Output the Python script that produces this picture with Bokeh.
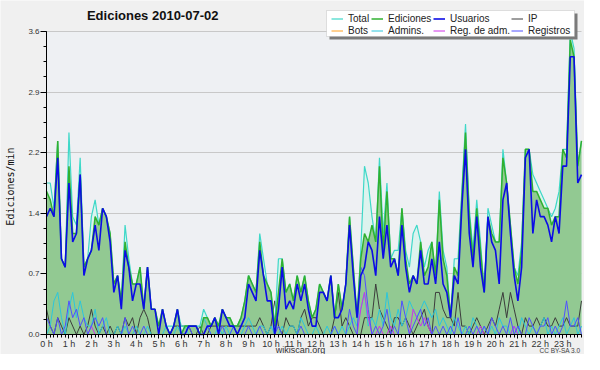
import math
from bokeh.plotting import figure
from bokeh.models import Range1d, FixedTicker, Legend, LegendItem, Label, BoxAnnotation
from bokeh.embed import file_html
from bokeh.resources import INLINE

# ---------------- data (edits per minute, 10-minute bins, 0:00 .. 23:50) ----------------
hour_ticks = list(range(24))
hour_labels = [f"{h} h" for h in hour_ticks]
y_tick_values = [0.0, 0.72, 1.44, 2.16, 2.88, 3.6]
y_tick_labels = ["0.0", "0.7", "1.4", "2.2", "2.9", "3.6"]

total = [
    1.8, 1.8, 1.5, 2.3, 0.9, 0.8, 2.4, 1.4, 1.3, 2.1, 0.8, 0.9,
    1.4, 1.6, 1.3, 1.5, 1.4, 1.2, 0.6, 0.7, 0.4, 1.3, 0.9, 0.6,
    0.6, 0.8, 0.3, 0.8, 0.3, 0.3, 0.1, 0.3, 0.1, 0.1, 0.1, 0.3,
    0.1, 0.1, 0.1, 0.1, 0.1, 0.1, 0.3, 0.2, 0.1, 0.2, 0.1, 0.3,
    0.2, 0.2, 0.1, 0.1, 0.2, 0.4, 0.7, 0.6, 0.5, 1.2, 0.9, 0.6,
    0.5, 0.1, 0.9, 0.9, 0.5, 0.6, 0.4, 0.7, 0.5, 0.7, 0.4, 0.2,
    0.3, 0.6, 0.5, 0.4, 0.7, 0.2, 0.6, 0.3, 0.6, 1.4, 0.8, 0.2,
    1.0, 2.0, 1.8, 1.4, 1.1, 2.1, 1.2, 1.8, 0.9, 1.0, 1.0, 1.5,
    1.0, 0.8, 1.2, 1.3, 1.1, 0.8, 1.0, 1.1, 0.7, 1.7, 1.0, 0.8,
    0.2, 0.9, 0.9, 1.7, 2.5, 1.5, 1.0, 1.6, 1.1, 0.5, 1.5, 1.3,
    1.1, 1.1, 2.2, 1.8, 1.3, 0.8, 0.7, 1.1, 2.2, 2.2, 1.9, 1.8,
    1.7, 1.6, 1.5, 1.4, 1.5, 1.7, 2.2, 2.2, 3.6, 3.4, 2.0, 2.3,
]
ediciones = [
    1.7, 1.6, 1.4, 2.3, 0.9, 0.8, 2.0, 1.2, 1.2, 1.9, 0.8, 0.9,
    1.0, 1.4, 1.3, 1.5, 1.4, 1.2, 0.6, 0.7, 0.4, 1.1, 0.8, 0.6,
    0.6, 0.8, 0.3, 0.8, 0.3, 0.3, 0.1, 0.3, 0.1, 0.0, 0.1, 0.3,
    0.0, 0.1, 0.1, 0.1, 0.1, 0.0, 0.2, 0.2, 0.1, 0.2, 0.1, 0.3,
    0.2, 0.2, 0.1, 0.1, 0.2, 0.4, 0.7, 0.6, 0.5, 1.1, 0.7, 0.6,
    0.5, 0.1, 0.5, 0.9, 0.5, 0.6, 0.4, 0.7, 0.5, 0.7, 0.4, 0.2,
    0.3, 0.6, 0.5, 0.4, 0.7, 0.2, 0.6, 0.3, 0.6, 1.4, 0.8, 0.2,
    0.9, 1.2, 1.1, 1.3, 1.1, 2.0, 1.0, 1.7, 0.9, 0.9, 0.7, 1.5,
    0.9, 0.6, 0.7, 0.6, 1.1, 0.7, 0.8, 1.1, 0.7, 1.6, 0.9, 0.7,
    0.2, 0.8, 0.7, 1.6, 2.4, 1.4, 0.9, 1.5, 1.0, 0.5, 1.4, 1.2,
    1.1, 1.1, 2.1, 1.8, 1.3, 0.8, 0.6, 1.0, 2.2, 2.2, 1.7, 1.7,
    1.6, 1.5, 1.5, 1.3, 1.4, 1.4, 2.2, 2.1, 3.5, 3.3, 2.0, 2.3,
]
usuarios = [
    1.4, 1.5, 1.4, 2.1, 0.9, 0.8, 1.8, 1.1, 1.2, 1.9, 0.7, 0.9,
    1.0, 1.3, 1.0, 1.5, 1.4, 1.1, 0.5, 0.7, 0.3, 1.0, 0.8, 0.4,
    0.6, 0.6, 0.3, 0.8, 0.3, 0.3, 0.0, 0.3, 0.1, 0.0, 0.1, 0.3,
    0.0, 0.0, 0.1, 0.1, 0.1, 0.0, 0.0, 0.1, 0.1, 0.2, 0.0, 0.3,
    0.2, 0.1, 0.1, 0.0, 0.1, 0.2, 0.6, 0.5, 0.4, 1.0, 0.7, 0.4,
    0.4, 0.0, 0.3, 0.8, 0.3, 0.4, 0.3, 0.6, 0.4, 0.6, 0.3, 0.1,
    0.1, 0.5, 0.5, 0.4, 0.7, 0.2, 0.2, 0.3, 0.6, 1.3, 0.7, 0.2,
    0.7, 0.8, 1.1, 1.0, 0.7, 1.4, 0.9, 1.3, 0.8, 0.9, 0.7, 1.3,
    0.8, 0.5, 0.7, 0.6, 1.0, 0.6, 0.6, 0.9, 0.6, 1.1, 0.6, 0.5,
    0.2, 0.7, 0.6, 1.5, 2.2, 1.2, 0.8, 1.4, 0.8, 0.5, 1.4, 1.1,
    1.0, 0.6, 1.6, 1.8, 1.2, 0.7, 0.4, 0.8, 2.1, 2.2, 1.2, 1.6,
    1.4, 1.4, 1.3, 1.1, 1.4, 1.2, 2.0, 2.0, 3.3, 3.3, 1.8, 1.9,
]
ip = [
    0.3, 0.1, 0.0, 0.2, 0.1, 0.0, 0.2, 0.1, 0.0, 0.1, 0.0, 0.1,
    0.3, 0.1, 0.0, 0.1, 0.0, 0.1, 0.0, 0.1, 0.0, 0.2, 0.1, 0.2,
    0.0, 0.2, 0.3, 0.2, 0.0, 0.0, 0.0, 0.0, 0.0, 0.0, 0.1, 0.1,
    0.1, 0.1, 0.1, 0.0, 0.0, 0.1, 0.0, 0.0, 0.1, 0.1, 0.1, 0.1,
    0.1, 0.1, 0.1, 0.1, 0.1, 0.1, 0.1, 0.1, 0.1, 0.2, 0.1, 0.0,
    0.1, 0.4, 0.1, 0.0, 0.2, 0.1, 0.1, 0.0, 0.2, 0.3, 0.1, 0.2,
    0.2, 0.1, 0.0, 0.0, 0.0, 0.2, 0.5, 0.1, 0.2, 0.1, 0.0, 0.0,
    0.0, 0.2, 0.2, 0.2, 0.6, 0.3, 0.2, 0.1, 0.0, 0.2, 0.2, 0.1,
    0.2, 0.1, 0.0, 0.1, 0.2, 0.3, 0.1, 0.0, 0.5, 0.5, 0.3, 0.2,
    0.2, 0.1, 0.5, 0.1, 0.1, 0.0, 0.1, 0.2, 0.1, 0.0, 0.1, 0.2,
    0.1, 0.3, 0.5, 0.2, 0.5, 0.3, 0.1, 0.0, 0.2, 0.1, 0.1, 0.2,
    0.1, 0.2, 0.1, 0.1, 0.2, 0.1, 0.1, 0.2, 0.1, 0.1, 0.1, 0.4,
]
bots = [
    0.0, 0.0, 0.0, 0.0, 0.0, 0.0, 0.0, 0.0, 0.0, 0.0, 0.0, 0.0,
    0.0, 0.0, 0.0, 0.0, 0.0, 0.0, 0.0, 0.0, 0.0, 0.0, 0.0, 0.0,
    0.0, 0.0, 0.0, 0.0, 0.0, 0.0, 0.0, 0.0, 0.0, 0.0, 0.0, 0.0,
    0.0, 0.0, 0.0, 0.0, 0.0, 0.0, 0.0, 0.0, 0.0, 0.0, 0.0, 0.0,
    0.0, 0.0, 0.0, 0.0, 0.0, 0.0, 0.0, 0.0, 0.0, 0.0, 0.0, 0.0,
    0.0, 0.0, 0.0, 0.0, 0.0, 0.0, 0.0, 0.0, 0.0, 0.0, 0.0, 0.0,
    0.0, 0.0, 0.0, 0.0, 0.0, 0.0, 0.0, 0.0, 0.0, 0.0, 0.0, 0.0,
    0.0, 0.0, 0.0, 0.0, 0.0, 0.0, 0.0, 0.0, 0.0, 0.0, 0.0, 0.0,
    0.0, 0.0, 0.0, 0.0, 0.0, 0.0, 0.0, 0.0, 0.0, 0.0, 0.0, 0.0,
    0.0, 0.0, 0.0, 0.0, 0.0, 0.0, 0.0, 0.0, 0.0, 0.0, 0.0, 0.0,
    0.0, 0.0, 0.0, 0.0, 0.0, 0.0, 0.0, 0.0, 0.0, 0.0, 0.0, 0.0,
    0.0, 0.0, 0.0, 0.0, 0.0, 0.0, 0.0, 0.0, 0.0, 0.0, 0.0, 0.0,
]
admins = [
    0.0, 0.1, 0.4, 0.5, 0.2, 0.0, 0.3, 0.5, 0.2, 0.4, 0.2, 0.1,
    0.1, 0.3, 0.0, 0.1, 0.2, 0.0, 0.0, 0.1, 0.0, 0.1, 0.0, 0.0,
    0.1, 0.0, 0.0, 0.1, 0.0, 0.0, 0.0, 0.0, 0.1, 0.0, 0.0, 0.1,
    0.0, 0.1, 0.0, 0.0, 0.0, 0.0, 0.2, 0.1, 0.0, 0.0, 0.1, 0.0,
    0.1, 0.0, 0.1, 0.0, 0.0, 0.1, 0.2, 0.1, 0.0, 0.1, 0.1, 0.0,
    0.1, 0.0, 0.0, 0.1, 0.0, 0.1, 0.1, 0.0, 0.2, 0.1, 0.0, 0.0,
    0.1, 0.0, 0.0, 0.1, 0.0, 0.1, 0.0, 0.1, 0.0, 0.1, 0.2, 0.1,
    0.3, 0.5, 0.1, 0.2, 0.1, 0.3, 0.1, 0.5, 0.2, 0.1, 0.3, 0.1,
    0.2, 0.4, 0.3, 0.2, 0.3, 0.4, 0.3, 0.2, 0.3, 0.1, 0.2, 0.1,
    0.0, 0.2, 0.1, 0.0, 0.1, 0.0, 0.2, 0.1, 0.0, 0.1, 0.0, 0.1,
    0.0, 0.2, 0.1, 0.1, 0.0, 0.1, 0.0, 0.2, 0.1, 0.0, 0.1, 0.0,
    0.1, 0.2, 0.0, 0.1, 0.0, 0.1, 0.2, 0.0, 0.1, 0.2, 0.0, 0.1,
]
reg_adm = [
    0.0, 0.0, 0.0, 0.0, 0.0, 0.0, 0.0, 0.0, 0.0, 0.0, 0.0, 0.0,
    0.1, 0.0, 0.0, 0.0, 0.0, 0.0, 0.0, 0.0, 0.0, 0.0, 0.0, 0.0,
    0.0, 0.0, 0.0, 0.0, 0.0, 0.0, 0.0, 0.0, 0.0, 0.0, 0.0, 0.0,
    0.0, 0.0, 0.0, 0.0, 0.0, 0.0, 0.0, 0.0, 0.0, 0.0, 0.0, 0.0,
    0.0, 0.0, 0.0, 0.0, 0.0, 0.0, 0.0, 0.0, 0.0, 0.0, 0.0, 0.0,
    0.0, 0.0, 0.0, 0.0, 0.0, 0.0, 0.0, 0.0, 0.0, 0.0, 0.0, 0.0,
    0.0, 0.0, 0.0, 0.0, 0.0, 0.0, 0.0, 0.0, 0.0, 0.0, 0.0, 0.0,
    0.3, 0.5, 0.2, 0.0, 0.0, 0.1, 0.0, 0.0, 0.1, 0.0, 0.0, 0.0,
    0.0, 0.0, 0.3, 0.2, 0.1, 0.2, 0.1, 0.0, 0.0, 0.0, 0.0, 0.0,
    0.0, 0.0, 0.0, 0.0, 0.0, 0.0, 0.0, 0.0, 0.1, 0.0, 0.0, 0.0,
    0.0, 0.0, 0.0, 0.0, 0.0, 0.1, 0.0, 0.0, 0.0, 0.0, 0.0, 0.0,
    0.0, 0.0, 0.0, 0.0, 0.0, 0.0, 0.0, 0.0, 0.0, 0.0, 0.0, 0.0,
]
registros = [
    0.2, 0.1, 0.0, 0.2, 0.0, 0.1, 0.4, 0.2, 0.3, 0.1, 0.2, 0.0,
    0.1, 0.2, 0.1, 0.2, 0.0, 0.0, 0.0, 0.0, 0.0, 0.2, 0.0, 0.1,
    0.0, 0.0, 0.1, 0.0, 0.0, 0.0, 0.0, 0.0, 0.0, 0.0, 0.0, 0.0,
    0.0, 0.0, 0.1, 0.0, 0.0, 0.0, 0.0, 0.1, 0.0, 0.0, 0.0, 0.1,
    0.0, 0.0, 0.1, 0.0, 0.0, 0.0, 0.1, 0.0, 0.0, 0.1, 0.0, 0.0,
    0.0, 0.0, 0.1, 0.0, 0.0, 0.0, 0.0, 0.0, 0.1, 0.0, 0.0, 0.0,
    0.0, 0.0, 0.0, 0.0, 0.0, 0.1, 0.0, 0.0, 0.0, 0.3, 0.1, 0.0,
    0.8, 0.7, 0.3, 0.0, 0.1, 0.0, 0.1, 0.3, 0.0, 0.1, 0.0, 0.4,
    0.2, 0.0, 0.1, 0.2, 0.3, 0.1, 0.2, 0.0, 0.1, 0.0, 0.1, 0.0,
    0.1, 0.0, 0.2, 0.0, 0.0, 0.1, 0.0, 0.1, 0.0, 0.1, 0.0, 0.2,
    0.1, 0.0, 0.1, 0.0, 0.2, 0.0, 0.1, 0.0, 0.0, 0.2, 0.1, 0.0,
    0.1, 0.1, 0.2, 0.0, 0.1, 0.0, 0.1, 0.4, 0.1, 0.1, 0.2, 0.0,
]

n = len(total)
x = [i / 6 for i in range(n)]          # hours
x_minor = [i / 6 for i in range(n + 1)]
X_LAST = x[-1]
Y_MAX = y_tick_values[-1]

# ---------------- layout geometry (canvas pixels; the frame fills the canvas) ----------------
W, H = 584, 354
PX_X0, PX_XLAST = 46, 581     # canvas columns of 0:00 and 23:50
PX_TOP, PX_ZERO = 31, 334     # canvas rows of the 3.6 line and the 0 line
xpp = X_LAST / (PX_XLAST - PX_X0)
ypp = Y_MAX / (PX_ZERO - PX_TOP)
x_start, x_end = -PX_X0 * xpp, X_LAST + (W - PX_XLAST) * xpp
y_start, y_end = -(H - PX_ZERO) * ypp, Y_MAX + PX_TOP * ypp


def dx(px):   # canvas column -> data x
    return x_start + px * xpp


def dy(py):   # canvas row -> data y
    return y_end - py * ypp


FONT = "Liberation Sans"

p = figure(width=W, height=H, title=None,
           x_range=Range1d(x_start, x_end), y_range=Range1d(y_start, y_end),
           output_backend="svg", toolbar_location=None,
           min_border_left=0, min_border_right=0,
           min_border_top=0, min_border_bottom=0,
           background_fill_color="#f0f0f0", border_fill_color="#f0f0f0",
           outline_line_color=None)

# plot-area background (between the axes only)
p.add_layout(BoxAnnotation(left=0, right=X_LAST, bottom=0, top=Y_MAX,
                           fill_color="#eef0f3", fill_alpha=1,
                           line_color=None, level="image"))

# areas and lines
r_bots = p.line(x, bots, line_color="#ffa020", line_width=1)
p.varea(x=x, y1=0, y2=total, fill_color="#dcf3ee")
p.varea(x=x, y1=0, y2=ediciones, fill_color="#92c992")
r_ip = p.line(x, ip, line_color="#3c3c3c", line_width=1)
r_adm = p.line(x, admins, line_color="#2cc6dc", line_width=1)
r_regadm = p.line(x, reg_adm, line_color="#d030e8", line_width=1)
r_reg = p.line(x, registros, line_color="#5050ff", line_width=1)
r_total = p.line(x, total, line_color="#3ed8c8", line_width=1.2)
r_ed = p.line(x, ediciones, line_color="#30b030", line_width=1.5)
r_usr = p.line(x, usuarios, line_color="#0c0ce6", line_width=1.6)

# axes, drawn at the data origin
p.xaxis.ticker = FixedTicker(ticks=hour_ticks, minor_ticks=x_minor)
p.xaxis.major_label_overrides = {h: lab for h, lab in zip(hour_ticks, hour_labels)}
p.xaxis.fixed_location = 0
p.xaxis.bounds = (0, X_LAST)
p.yaxis.ticker = FixedTicker(ticks=y_tick_values,
                             minor_ticks=[round(0.18 * k, 2) for k in range(21)])
p.yaxis.major_label_overrides = {v: lab for v, lab in zip(y_tick_values, y_tick_labels)}
p.yaxis.fixed_location = 0
p.yaxis.bounds = (0, Y_MAX)
for ax in (p.xaxis, p.yaxis):
    ax.axis_line_color = "black"
    ax.major_tick_line_color = "black"
    ax.minor_tick_line_color = "black"
    ax.major_tick_in = 0
    ax.minor_tick_in = 0
    ax.major_label_text_font = FONT
    ax.major_label_text_color = "#333333"
p.xaxis.major_tick_out = 4
p.xaxis.minor_tick_out = 3
p.xaxis.major_label_standoff = 0
p.xaxis.major_label_text_font_size = "9px"
p.yaxis.major_tick_out = 6
p.yaxis.minor_tick_out = 3
p.yaxis.major_label_standoff = 1
p.yaxis.major_label_text_font_size = "8px"

p.xgrid.visible = False
p.ygrid.grid_line_color = "#c8c8c8"
try:
    p.ygrid.cross_bounds = (0, X_LAST)
except Exception:
    p.ygrid.visible = False
    p.segment(x0=0, x1=X_LAST, y0=y_tick_values[1:], y1=y_tick_values[1:],
              line_color="#c8c8c8", line_width=1, level="underlay")

# legend: a boxed panel with a drop shadow, holding four two-row columns
BOX_L, BOX_R, BOX_T, BOX_B = 326, 574, 10, 36
p.add_layout(BoxAnnotation(left=dx(BOX_L + 3), right=dx(BOX_R + 3),
                           top=dy(BOX_T + 3), bottom=dy(BOX_B + 3),
                           fill_color="#7a7a7a", fill_alpha=1, line_color=None))
p.add_layout(BoxAnnotation(left=dx(BOX_L), right=dx(BOX_R),
                           top=dy(BOX_T), bottom=dy(BOX_B),
                           fill_color="white", fill_alpha=1,
                           line_color="#a0a0a0", line_width=1))

legend_columns = [
    (BOX_L + 5, [("Total", r_total), ("Bots", r_bots)]),
    (BOX_L + 45, [("Ediciones", r_ed), ("Admins.", r_adm)]),
    (BOX_L + 107, [("Usuarios", r_usr), ("Reg. de adm.", r_regadm)]),
    (BOX_L + 185, [("IP", r_ip), ("Registros", r_reg)]),
]
for col_x, entries in legend_columns:
    lg = Legend(items=[LegendItem(label=lab, renderers=[r]) for lab, r in entries],
                location=(col_x, H - BOX_B + 0.5), orientation="vertical",
                label_text_font=FONT, label_text_font_size="10px",
                label_text_color="#222222",
                label_height=11, glyph_height=11, glyph_width=12,
                label_standoff=5, spacing=1, padding=1, margin=0,
                background_fill_alpha=0, border_line_color=None)
    p.add_layout(lg)

# texts (screen units = canvas pixels from the bottom-left corner)
p.add_layout(Label(x=154, y=H - 15, x_units="screen", y_units="screen",
                   text="Ediciones  2010-07-02", text_font=FONT,
                   text_font_size="13px", text_font_style="bold",
                   text_align="center", text_baseline="middle", text_color="#111111"))
p.add_layout(Label(x=10, y=H - 186, x_units="screen", y_units="screen",
                   text="Ediciones/min", text_font="DejaVu Sans Mono",
                   text_font_size="10px", angle=math.pi / 2,
                   text_align="center", text_baseline="middle", text_color="#111111"))
p.add_layout(Label(x=300, y=4.5, x_units="screen", y_units="screen",
                   text="wikiscan.org", text_font=FONT, text_font_size="9px",
                   text_align="center", text_baseline="middle", text_color="#333333"))
p.add_layout(Label(x=W - 4, y=4.5, x_units="screen", y_units="screen",
                   text="CC BY-SA 3.0", text_font=FONT, text_font_size="6.5px",
                   text_align="right", text_baseline="middle", text_color="#444444"))

open("out.html", "w").write(file_html(p, INLINE))
